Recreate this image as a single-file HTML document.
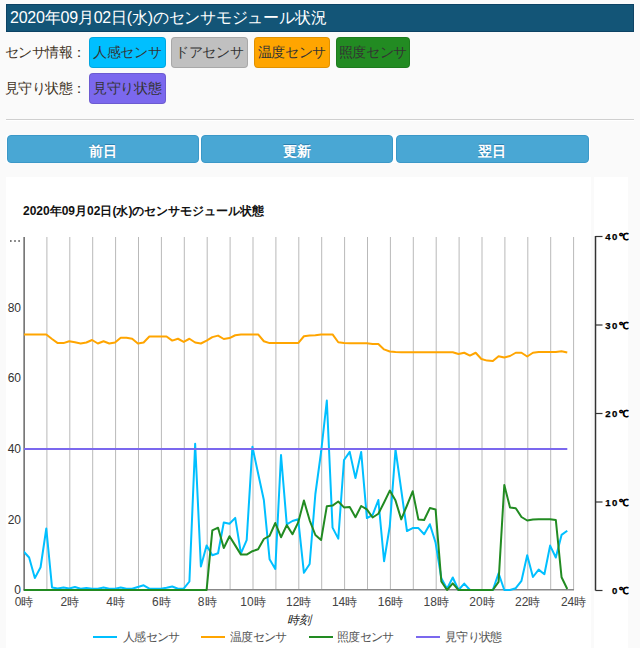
<!DOCTYPE html>
<html><head><meta charset="utf-8"><style>
*{box-sizing:border-box}
html,body{margin:0;padding:0;width:640px;height:648px;overflow:hidden;background:#fafafa;font-family:"Liberation Sans",sans-serif}
.hd{position:absolute;left:6px;top:4px;width:628px;height:28px;background:#135577;border:1px solid #0c4264;color:#fff;font-size:16px;line-height:26px;padding-left:3px;letter-spacing:-0.22px;white-space:nowrap}
.lbl{position:absolute;left:5px;font-size:14px;color:#3e3224;white-space:nowrap;letter-spacing:-0.55px}
.bd{position:absolute;height:31px;border-radius:4px;font-size:14px;color:#333;line-height:29px;text-align:center;white-space:nowrap;border:1px solid rgba(0,0,0,.12);letter-spacing:-0.45px;text-indent:-0.45px}
.hr{position:absolute;left:6px;top:119px;width:628px;height:1px;background:#cfcfcf}
.hr2{position:absolute;left:6px;top:120px;width:628px;height:1px;background:#fff}
.bt{position:absolute;top:135px;height:28px;background:#49a7d4;border:1px solid #3b98c8;border-radius:4px;color:#fff;font-weight:bold;font-size:14px;text-align:center;line-height:30px;text-shadow:0 -1px 0 #2c7fb0}
.bw{position:absolute;left:6px;top:135px;width:584px;height:28px;background:#fff}
.pn{position:absolute;top:177px;height:471px;background:#fff}
svg{position:absolute;left:0;top:0}
</style></head><body>
<div class="hd">2020年09月02日(水)のセンサモジュール状況</div>
<div class="lbl" style="top:44px">センサ情報：</div>
<div class="bd" style="left:89px;top:37px;width:77px;background:#00bfff">人感センサ</div>
<div class="bd" style="left:171px;top:37px;width:77px;background:#c0c0c0">ドアセンサ</div>
<div class="bd" style="left:254px;top:37px;width:76px;background:#ffa500">温度センサ</div>
<div class="bd" style="left:336px;top:37px;width:74px;background:#228b22">照度センサ</div>
<div class="lbl" style="top:80px">見守り状態：</div>
<div class="bd" style="left:89px;top:73px;width:77px;background:#7b68ee">見守り状態</div>
<div class="hr"></div><div class="hr2"></div>
<div class="bw"></div>
<div class="bt" style="left:7px;width:192px">前日</div>
<div class="bt" style="left:201.3px;width:192px">更新</div>
<div class="bt" style="left:395.8px;width:193.2px">翌日</div>
<div class="pn" style="left:6px;width:585px"></div>
<div class="pn" style="left:594px;width:34px"></div>
<svg width="640" height="648" viewBox="0 0 640 648">
<text x="23" y="215" font-size="12" font-weight="bold" fill="#111">2020年09月02日(水)のセンサモジュール状態</text>
<g stroke="#b9b9b9" stroke-width="1"><line x1="46.90" y1="237" x2="46.90" y2="590" /><line x1="69.80" y1="237" x2="69.80" y2="590" /><line x1="92.70" y1="237" x2="92.70" y2="590" /><line x1="115.60" y1="237" x2="115.60" y2="590" /><line x1="138.50" y1="237" x2="138.50" y2="590" /><line x1="161.40" y1="237" x2="161.40" y2="590" /><line x1="184.30" y1="237" x2="184.30" y2="590" /><line x1="207.20" y1="237" x2="207.20" y2="590" /><line x1="230.10" y1="237" x2="230.10" y2="590" /><line x1="253.00" y1="237" x2="253.00" y2="590" /><line x1="275.90" y1="237" x2="275.90" y2="590" /><line x1="298.80" y1="237" x2="298.80" y2="590" /><line x1="321.70" y1="237" x2="321.70" y2="590" /><line x1="344.60" y1="237" x2="344.60" y2="590" /><line x1="367.50" y1="237" x2="367.50" y2="590" /><line x1="390.40" y1="237" x2="390.40" y2="590" /><line x1="413.30" y1="237" x2="413.30" y2="590" /><line x1="436.20" y1="237" x2="436.20" y2="590" /><line x1="459.10" y1="237" x2="459.10" y2="590" /><line x1="482.00" y1="237" x2="482.00" y2="590" /><line x1="504.90" y1="237" x2="504.90" y2="590" /><line x1="527.80" y1="237" x2="527.80" y2="590" /><line x1="550.70" y1="237" x2="550.70" y2="590" /><line x1="573.60" y1="237" x2="573.60" y2="590" /></g>
<rect x="23" y="237" width="1" height="353.5" fill="#a2a2a2"/><rect x="24" y="237" width="1" height="353.5" fill="#787878"/>
<line x1="23" y1="589.8" x2="574" y2="589.8" stroke="#888" stroke-width="1.5"/>
<g font-size="12" fill="#333" text-anchor="end"><text x="21" y="311.80">80</text><text x="21" y="382.40">60</text><text x="21" y="453.00">40</text><text x="21" y="523.60">20</text><text x="21" y="594.20">0</text></g>
<g fill="#777"><rect x="10" y="240" width="1.6" height="2"/><rect x="14.2" y="240" width="1.6" height="2"/><rect x="18.3" y="240" width="1.6" height="2"/></g>
<g font-size="12" fill="#444" text-anchor="middle"><text x="24.00" y="606">0時</text><text x="69.80" y="606">2時</text><text x="115.60" y="606">4時</text><text x="161.40" y="606">6時</text><text x="207.20" y="606">8時</text><text x="253.00" y="606">10時</text><text x="298.80" y="606">12時</text><text x="344.60" y="606">14時</text><text x="390.40" y="606">16時</text><text x="436.20" y="606">18時</text><text x="482.00" y="606">20時</text><text x="527.80" y="606">22時</text><text x="573.60" y="606">24時</text></g>
<text x="299" y="624" font-size="12" font-style="italic" fill="#222" text-anchor="middle">時刻</text>
<defs><clipPath id="ca"><rect x="24" y="230" width="551" height="370"/></clipPath></defs>
<g fill="none" stroke-width="2" stroke-linejoin="round" clip-path="url(#ca)">
<polyline points="23.40,551.25 29.12,557.50 34.85,578.10 40.57,567.25 46.30,528.50 52.02,587.40 57.75,588.50 63.47,587.50 69.20,588.50 74.92,587.00 80.65,588.70 86.38,588.00 92.10,588.70 97.82,588.70 103.55,587.60 109.28,588.70 115.00,588.70 120.72,587.60 126.45,588.70 132.17,588.70 137.90,587.00 143.62,585.30 149.35,588.70 155.07,588.70 160.80,588.70 166.53,587.80 172.25,586.50 177.97,588.70 183.70,588.70 189.42,581.50 195.15,443.75 200.88,566.40 206.60,545.40 212.32,555.20 218.05,553.30 223.78,522.50 229.50,523.80 235.22,517.90 240.95,553.30 246.67,540.20 252.40,446.70 258.12,473.50 263.85,500.00 269.57,559.20 275.30,568.90 281.02,455.00 286.75,524.40 292.47,521.00 298.20,519.30 303.92,572.80 309.65,564.00 315.37,494.00 321.10,452.00 326.82,400.50 332.55,527.60 338.27,538.60 344.00,460.00 349.72,451.90 355.45,478.10 361.17,451.90 366.90,518.10 372.62,515.00 378.35,500.00 384.07,561.25 389.80,526.00 395.52,449.40 401.25,490.00 406.97,531.00 412.70,528.10 418.42,528.10 424.15,534.30 429.87,524.20 435.60,542.80 441.32,578.20 447.05,588.70 452.77,577.50 458.50,590.00 464.22,583.60 469.95,590.00 475.67,590.00 481.40,590.00 487.12,590.00 492.85,590.00 498.57,573.20 504.30,590.00 510.02,590.00 515.75,588.20 521.48,580.80 527.20,555.30 532.92,577.00 538.65,569.60 544.38,574.20 550.10,545.60 555.82,557.50 561.55,534.90 567.27,530.70" stroke="#00bfff"/>
<polyline points="23.40,334.50 29.12,334.50 34.85,334.50 40.57,334.50 46.30,334.50 52.02,339.00 57.75,343.10 63.47,343.10 69.20,341.25 74.92,342.30 80.65,343.40 86.38,342.50 92.10,340.00 97.82,343.50 103.55,341.25 109.28,343.50 115.00,342.50 120.72,337.75 126.45,337.75 132.17,338.75 137.90,343.50 143.62,342.50 149.35,336.50 155.07,336.50 160.80,336.50 166.53,336.50 172.25,340.60 177.97,338.75 183.70,341.90 189.42,338.75 195.15,342.50 200.88,343.50 206.60,340.60 212.32,337.10 218.05,335.60 223.78,339.00 229.50,338.10 235.22,335.25 240.95,334.50 246.67,334.50 252.40,334.50 258.12,334.40 263.85,341.25 269.57,343.10 275.30,343.10 281.02,343.10 286.75,343.10 292.47,343.10 298.20,343.10 303.92,336.25 309.65,335.60 315.37,335.25 321.10,334.40 326.82,334.40 332.55,334.40 338.27,342.25 344.00,343.10 349.72,343.30 355.45,343.30 361.17,343.30 366.90,343.30 372.62,344.00 378.35,344.00 384.07,349.40 389.80,351.50 395.52,352.00 401.25,352.25 406.97,352.25 412.70,352.25 418.42,352.25 424.15,352.25 429.87,352.25 435.60,352.25 441.32,352.25 447.05,352.25 452.77,352.25 458.50,354.00 464.22,352.75 469.95,355.60 475.67,352.75 481.40,359.00 487.12,360.60 492.85,361.00 498.57,356.25 504.30,357.50 510.02,356.00 515.75,352.75 521.48,352.75 527.20,356.50 532.92,352.75 538.65,352.00 544.38,352.00 550.10,352.00 555.82,352.00 561.55,351.20 567.27,352.40" stroke="#ffa500"/>
<polyline points="23.40,590.00 29.12,590.00 34.85,590.00 40.57,590.00 46.30,590.00 52.02,590.00 57.75,590.00 63.47,590.00 69.20,590.00 74.92,590.00 80.65,590.00 86.38,590.00 92.10,590.00 97.82,590.00 103.55,590.00 109.28,590.00 115.00,590.00 120.72,590.00 126.45,590.00 132.17,590.00 137.90,590.00 143.62,590.00 149.35,590.00 155.07,590.00 160.80,590.00 166.53,590.00 172.25,590.00 177.97,590.00 183.70,590.00 189.42,590.00 195.15,590.00 200.88,590.00 206.60,590.00 212.32,530.30 218.05,527.70 223.78,548.00 229.50,536.20 235.22,545.40 240.95,554.60 246.67,554.60 252.40,551.20 258.12,549.20 263.85,539.00 269.57,535.80 275.30,523.00 281.02,537.20 286.75,525.10 292.47,534.20 298.20,522.40 303.92,500.50 309.65,520.30 315.37,535.00 321.10,540.00 326.82,506.20 332.55,505.60 338.27,501.50 344.00,507.40 349.72,506.90 355.45,517.25 361.17,506.00 366.90,509.40 372.62,517.50 378.35,513.75 384.07,502.50 389.80,490.60 395.52,500.60 401.25,519.40 406.97,505.50 412.70,491.25 418.42,519.60 424.15,520.00 429.87,508.10 435.60,509.40 441.32,581.50 447.05,590.00 452.77,583.40 458.50,590.00 464.22,590.00 469.95,590.00 475.67,590.00 481.40,590.00 487.12,590.00 492.85,590.00 498.57,581.90 504.30,485.00 510.02,507.60 515.75,508.20 521.48,517.00 527.20,520.50 532.92,519.50 538.65,519.20 544.38,519.20 550.10,519.20 555.82,520.00 561.55,577.20 567.27,589.00" stroke="#228b22"/>
<line x1="23.4" y1="449" x2="567.3" y2="449" stroke="#7b68ee"/>
</g>
<g stroke-width="2">
<line x1="93" y1="637" x2="117" y2="637" stroke="#00bfff"/>
<line x1="201" y1="637" x2="225" y2="637" stroke="#ffa500"/>
<line x1="309" y1="637" x2="333" y2="637" stroke="#228b22"/>
<line x1="416" y1="637" x2="440" y2="637" stroke="#7b68ee"/>
</g>
<g font-size="12" fill="#555" letter-spacing="-0.7">
<text x="123" y="641">人感センサ</text>
<text x="230" y="641">温度センサ</text>
<text x="337" y="641">照度センサ</text>
<text x="445" y="641">見守り状態</text>
</g>
<line x1="595.5" y1="236" x2="595.5" y2="590.5" stroke="#333" stroke-width="1.5"/>
<g stroke="#333" stroke-width="1.2"><line x1="595.5" y1="590.50" x2="602.5" y2="590.50"/><line x1="595.5" y1="502.00" x2="602.5" y2="502.00"/><line x1="595.5" y1="413.50" x2="602.5" y2="413.50"/><line x1="595.5" y1="325.00" x2="602.5" y2="325.00"/><line x1="595.5" y1="236.50" x2="602.5" y2="236.50"/></g>
<g font-size="9.6" font-weight="bold" fill="#000" stroke="#000" stroke-width="0.25" letter-spacing="1.5"><text x="611.95" y="594.20">0℃</text><text x="605.20" y="505.70">10℃</text><text x="605.20" y="417.20">20℃</text><text x="605.20" y="328.70">30℃</text><text x="605.20" y="240.20">40℃</text></g>
</svg>
</body></html>
